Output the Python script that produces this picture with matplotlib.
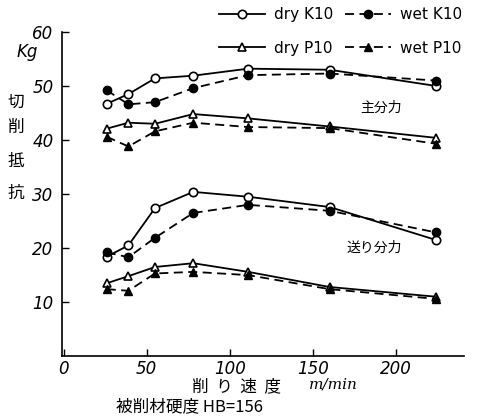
import matplotlib
matplotlib.use("Agg")
import matplotlib.pyplot as plt
from matplotlib.lines import Line2D

plt.rcParams['font.family'] = ['Noto Sans CJK JP', 'DejaVu Sans']

speed = [26, 39, 55, 78, 111, 160, 224]

# main cutting force (主分力)
main_dry_k10 = [46.7, 48.5, 51.4, 51.9, 53.2, 53.0, 50.0]
main_wet_k10 = [49.2, 46.6, 47.0, 49.6, 52.0, 52.3, 51.0]
main_dry_p10 = [42.1, 43.2, 43.0, 44.8, 44.0, 42.5, 40.4]
main_wet_p10 = [40.6, 38.8, 41.6, 43.2, 42.4, 42.2, 39.3]

# feed force (送り分力)
feed_dry_k10 = [18.4, 20.5, 27.4, 30.4, 29.5, 27.6, 21.5]
feed_wet_k10 = [19.2, 18.3, 21.9, 26.5, 28.0, 26.9, 22.9]
feed_dry_p10 = [13.5, 14.8, 16.5, 17.2, 15.6, 12.8, 11.0]
feed_wet_p10 = [12.4, 12.1, 15.3, 15.6, 15.0, 12.4, 10.6]

xticks = [0, 50, 100, 150, 200]
yticks = [10, 20, 30, 40, 50, 60]

fig = plt.figure(figsize=(5.03, 4.20), dpi=100)
ax = fig.add_axes([0.123, 0.152, 0.80, 0.772])

lw = 1.3
ms = 6
dry = dict(color='black', lw=lw, ls='-', mfc='white', mec='black', mew=1.2, ms=ms)
wet = dict(color='black', lw=lw, ls=(0, (5, 3)), mfc='black', mec='black', mew=1.0, ms=ms)

ax.plot(speed, main_dry_k10, marker='o', **dry)
ax.plot(speed, main_wet_k10, marker='o', **wet)
ax.plot(speed, main_dry_p10, marker='^', **dry)
ax.plot(speed, main_wet_p10, marker='^', **wet)
ax.plot(speed, feed_dry_k10, marker='o', **dry)
ax.plot(speed, feed_wet_k10, marker='o', **wet)
ax.plot(speed, feed_dry_p10, marker='^', **dry)
ax.plot(speed, feed_wet_p10, marker='^', **wet)

ax.set_xlim(-1, 241)
ax.set_ylim(0, 60)
ax.set_xticks(xticks)
ax.set_yticks(yticks)
ax.set_xticklabels([str(v) for v in xticks], fontstyle='italic', fontsize=12, family='DejaVu Sans')
ax.set_yticklabels([str(v) for v in yticks], fontstyle='italic', fontsize=12, family='DejaVu Sans')
ax.tick_params(direction='in', length=5, width=1, pad=6)
ax.tick_params(axis='x', pad=3)
for s in ['top', 'right']:
    ax.spines[s].set_visible(False)
for s in ['left', 'bottom']:
    ax.spines[s].set_linewidth(1.2)

ax.text(191, 46, '主分力', fontsize=10, ha='center', va='center')
ax.text(187, 20, '送り分力', fontsize=10, ha='center', va='center')

# y label
fig.text(27 / 503, 1 - 52 / 420, 'Kg', fontsize=12, fontstyle='italic', ha='center', va='center', family='DejaVu Sans')
for ch, yp in zip('切削抵抗', [102, 127, 161, 193]):
    fig.text(16 / 503, 1 - yp / 420, ch, fontsize=12, ha='center', va='center')

fig.text(237 / 503, 1 - 387 / 420, '削  り  速  度', fontsize=12, ha='center', va='center')
fig.text(333 / 503, 1 - 385 / 420, 'm/min', fontsize=11, fontstyle='italic', ha='center', va='center', family='DejaVu Serif')
fig.text(189 / 503, 1 - 407 / 420, '被削材硬度 HB=156', fontsize=12, ha='center', va='center')

handles = [
    Line2D([], [], marker='o', **dry),
    Line2D([], [], marker='^', **dry),
    Line2D([], [], marker='o', **wet),
    Line2D([], [], marker='^', **wet),
]
labels = ['dry K10', 'dry P10', 'wet K10', 'wet P10']
fig.legend(handles, labels, ncol=2, loc='upper left', bbox_to_anchor=(205 / 503, 1.015),
           frameon=False, handlelength=3.0, handletextpad=0.6, columnspacing=0.8,
           labelspacing=1.2, prop={'size': 11, 'family': 'DejaVu Sans'})

fig.savefig('out.png', dpi=100)
